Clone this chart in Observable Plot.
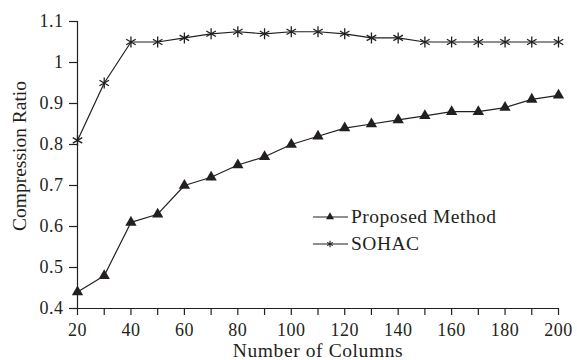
<!DOCTYPE html>
<html>
<head>
<meta charset="utf-8">
<script src="https://cdn.jsdelivr.net/npm/d3@7"></script>
<script src="https://cdn.jsdelivr.net/npm/@observablehq/plot@0.6"></script>
<style>
  html, body { margin: 0; padding: 0; background: #fff; }
  #wrap { position: relative; width: 577px; height: 360px; font-family: "Liberation Serif", "DejaVu Serif", serif; }
  #legend { position: absolute; left: 311px; top: 205px; }
</style>
</head>
<body>
<div id="wrap"><div id="chart"></div><svg id="legend" width="230" height="56"></svg></div>
<script>
const columns = [20, 30, 40, 50, 60, 70, 80, 90, 100, 110, 120, 130, 140, 150, 160, 170, 180, 190, 200];
const proposed = [0.44, 0.48, 0.61, 0.63, 0.70, 0.72, 0.75, 0.77, 0.80, 0.82, 0.84, 0.85, 0.86, 0.87, 0.88, 0.88, 0.89, 0.91, 0.92];
const sohac = [0.81, 0.95, 1.05, 1.05, 1.06, 1.07, 1.075, 1.07, 1.075, 1.075, 1.07, 1.06, 1.06, 1.05, 1.05, 1.05, 1.05, 1.05, 1.05];
const seriesNames = ["Proposed Method", "SOHAC"];
const xTicks = [20, 30, 40, 50, 60, 70, 80, 90, 100, 110, 120, 130, 140, 150, 160, 170, 180, 190, 200];
const xTickLabels = ["20", "", "40", "", "60", "", "80", "", "100", "", "120", "", "140", "", "160", "", "180", "", "200"];
const yTicks = [0.4, 0.5, 0.6, 0.7, 0.8, 0.9, 1.0, 1.1];
const yTickLabels = ["0.4", "0.5", "0.6", "0.7", "0.8", "0.9", "1", "1.1"];

const ink = "#231f20";
const propData = columns.map((c, i) => ({x: c, y: proposed[i]}));
const sohacData = columns.map((c, i) => ({x: c, y: sohac[i]}));

const chart = Plot.plot({
  width: 577,
  height: 360,
  marginLeft: 77,
  marginRight: 19,
  marginTop: 21,
  marginBottom: 52,
  style: {fontFamily: "'Liberation Serif', serif", fontSize: "18px", color: ink, background: "#fff"},
  x: {domain: [20, 200]},
  y: {domain: [0.4, 1.1]},
  marks: [
    Plot.axisX({ticks: xTicks, tickFormat: (d, i) => xTickLabels[i], tickSize: 7, tickPadding: 8, stroke: ink, strokeWidth: 1.2,
      fontSize: 18, fill: ink, label: null}),
    Plot.axisX({ticks: [], label: "Number of Columns", labelAnchor: "center", labelArrow: "none", labelOffset: 48, fontSize: 19.5, fill: ink}),
    Plot.axisY({ticks: yTicks, tickFormat: (d, i) => yTickLabels[i], tickSize: 8, tickPadding: 6, stroke: ink, strokeWidth: 1.2,
      fontSize: 18, fill: ink, label: null}),
    Plot.axisY({ticks: [], label: "Compression Ratio", labelAnchor: "center", labelArrow: "none", labelOffset: 65, fontSize: 19.5, fill: ink}),
    Plot.ruleX([20], {stroke: ink, strokeWidth: 1.2}),
    Plot.ruleY([0.4], {stroke: ink, strokeWidth: 1.2}),
    Plot.line(sohacData, {x: "x", y: "y", stroke: ink, strokeWidth: 1.2}),
    Plot.dot(sohacData, {x: "x", y: "y", symbol: "asterisk", r: 5.2, stroke: ink, strokeWidth: 1.3}),
    Plot.line(propData, {x: "x", y: "y", stroke: ink, strokeWidth: 1.2}),
    Plot.dot(propData, {x: "x", y: "y", symbol: "triangle", r: 4.2, fill: ink, stroke: "none"})
  ]
});
// the reference is slightly stretched horizontally: widen horizontal text a bit
d3.select(chart).selectAll("g[aria-label='x-axis tick label'] text, g[aria-label='y-axis tick label'] text").style("letter-spacing", "0.5px");
d3.select(chart).selectAll("g[aria-label='x-axis label'] text").style("letter-spacing", "0.6px");
d3.select(chart).selectAll("g[aria-label='y-axis label'] text").attr("dx", 9);
document.getElementById("chart").appendChild(chart);

// legend
const lg = d3.select("#legend");
const symbols = [d3.symbolTriangle, d3.symbolAsterisk];
seriesNames.forEach((name, i) => {
  const g = lg.append("g").attr("transform", `translate(0,${12 + i * 27})`);
  g.append("line").attr("x1", 2).attr("x2", 37).attr("y1", 0).attr("y2", 0).attr("stroke", ink).attr("stroke-width", 1.2);
  const p = g.append("path").attr("transform", "translate(19,0)").attr("d", d3.symbol(symbols[i], i === 0 ? 28 : 30)());
  if (i === 0) p.attr("fill", ink); else p.attr("fill", "none").attr("stroke", ink).attr("stroke-width", 1.1);
  g.append("text").attr("x", 40).attr("y", 0).attr("dy", "0.33em").attr("fill", ink)
    .style("font-family", "'Liberation Serif', serif").style("font-size", "19.5px").style("letter-spacing", "0.5px").text(name);
});
</script>
</body>
</html>
